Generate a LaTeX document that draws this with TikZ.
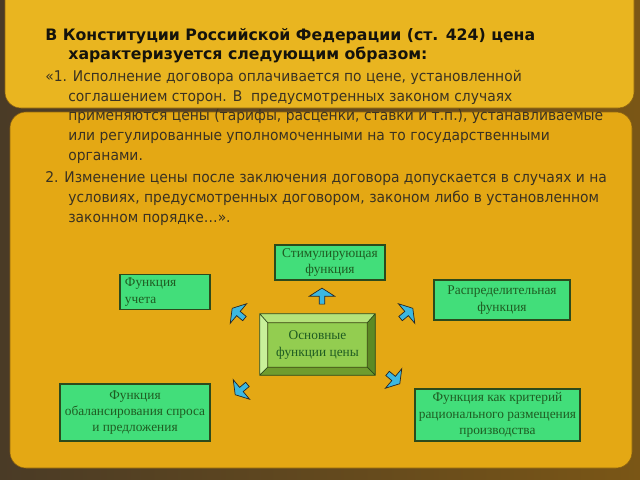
\documentclass[tikz,border=0pt]{standalone}
\usepackage{fontspec}
\usetikzlibrary{shapes.arrows,positioning}
\newfontfamily\headfont{DejaVu Sans}
\newfontfamily\bodyfont[FakeStretch=0.94]{DejaVu Sans}
\newfontfamily\boxfont{Liberation Serif}
\definecolor{bgdark}{HTML}{4A3B26}
\definecolor{bgbrown}{HTML}{7A5616}
\definecolor{toppanel}{HTML}{E9B520}
\definecolor{lowpanel}{HTML}{E4A814}
\definecolor{panelrim}{HTML}{8E6410}
\definecolor{headtext}{HTML}{15130C}
\definecolor{bodytext}{HTML}{3A3222}
\definecolor{boxfill}{HTML}{42DE7A}
\definecolor{boxline}{HTML}{2C4A1C}
\definecolor{boxtext}{HTML}{1F5C22}
\definecolor{corefill}{HTML}{93CD50}
\definecolor{bevtop}{HTML}{B4E27A}
\definecolor{bevleft}{HTML}{C8F09A}
\definecolor{bevbottom}{HTML}{6F9C2E}
\definecolor{bevright}{HTML}{5C8A24}
\definecolor{tipblue}{HTML}{3CB8E0}
\tikzset{
  fnbox/.style={draw=boxline, line width=0.8pt, fill=boxfill, text=boxtext,
    font=\boxfont\fontsize{9.5}{11.5}\selectfont, align=center, inner sep=2pt},
  pointer/.style={single arrow, draw=black!85, line width=0.5pt, fill=tipblue,
    inner sep=0.06cm, minimum height=0.4cm, single arrow head extend=0.25cm,
    single arrow tip angle=115},
  slidetext/.style={anchor=base west, align=left, inner sep=0pt, text=bodytext},
}
\begin{document}
\begin{tikzpicture}[x=0.025cm, y=-0.025cm]
  \useasboundingbox (0,0) rectangle (640,480);
  \clip (0,0) rectangle (640,480);
  % slide background
  \shade[left color=bgdark, right color=bgbrown] (0,0) rectangle (640,480);
  \filldraw[fill=lowpanel, draw=panelrim, rounded corners=0.4cm] (10,112) rectangle (632,468);
  \filldraw[fill=toppanel, draw=panelrim, rounded corners=0.4cm] (5,-20) rectangle (634,108);

  % text (base = last line)
  \node[slidetext, text=headtext, font=\headfont\bfseries\fontsize{11.2}{13.6}\selectfont] (heading) at (45,60)
    {В Конституции Российской Федерации (ст. 424) цена\\
     \hspace*{16.4pt}характеризуется следующим образом:};
  \node[slidetext, font=\bodyfont\fontsize{10.5}{13.9}\selectfont] (item1) at (45,160)
    {«1. Исполнение договора оплачивается по цене, установленной\\
     \hspace*{16.4pt}соглашением сторон. В~ предусмотренных законом случаях\\
     \hspace*{16.4pt}применяются цены (тарифы, расценки, ставки и т.п.), устанавливаемые\\
     \hspace*{16.4pt}или регулированные уполномоченными на то государственными\\
     \hspace*{16.4pt}органами.};
  \node[slidetext, font=\bodyfont\fontsize{10.5}{13.9}\selectfont] (item2) at (45,222)
    {2. Изменение цены после заключения договора допускается в случаях и на\\
     \hspace*{16.4pt}условиях, предусмотренных договором, законом либо в установленном\\
     \hspace*{16.4pt}законном порядке…».};

  % functions
  \node[fnbox, minimum width=2.75cm, minimum height=0.875cm] (stim) at (330,262.5) {Стимулирующая\\функция};
  \node[fnbox, text width=2.0cm, align=left, minimum height=0.875cm, inner xsep=0.125cm] (acct) at (165,292) {Функция\\учета};
  \node[fnbox, minimum width=3.4cm, minimum height=1cm] (distr) at (502,300) {Распределительная\\функция};
  \node[fnbox, minimum width=3.75cm, minimum height=1.425cm] (balance) at (135,412.5) {Функция\\обалансирования спроса\\и предложения};
  \node[fnbox, minimum width=4.125cm, minimum height=1.3cm] (crit) at (497.5,415) {Функция как критерий\\рационального размещения\\производства};

  % centre block with bevel
  \node[fill=corefill, minimum width=2.475cm, minimum height=1.1cm, inner sep=0, text=boxtext, align=center,
        font=\boxfont\fontsize{9.5}{11.5}\selectfont] (core) at (317.5,345) {Основные\\функции цены};
  \path (core.north west) ++(-8,-9) coordinate (onw)
        (core.north east) ++(8,-9) coordinate (one)
        (core.south east) ++(8,8) coordinate (ose)
        (core.south west) ++(-8,8) coordinate (osw);
  \fill[bevtop] (onw) -- (one) -- (core.north east) -- (core.north west) -- cycle;
  \fill[bevleft] (onw) -- (core.north west) -- (core.south west) -- (osw) -- cycle;
  \fill[bevbottom] (osw) -- (core.south west) -- (core.south east) -- (ose) -- cycle;
  \fill[bevright] (one) -- (ose) -- (core.south east) -- (core.north east) -- cycle;
  \draw[boxline, line width=0.5pt] (onw) rectangle (ose) (core.north west) rectangle (core.south east)
        (onw) -- (core.north west) (one) -- (core.north east)
        (ose) -- (core.south east) (osw) -- (core.south west);

  % pointers
  \node[pointer, rotate=90] (tipup) at (322,297) {};
  \node[pointer, rotate=140] (tipnw) at (239,314) {};
  \node[pointer, rotate=40] (tipne) at (406,314) {};
  \node[pointer, rotate=220] (tipsw) at (242,389) {};
  \node[pointer, rotate=-40] (tipse) at (393,378) {};
\end{tikzpicture}
\end{document}
